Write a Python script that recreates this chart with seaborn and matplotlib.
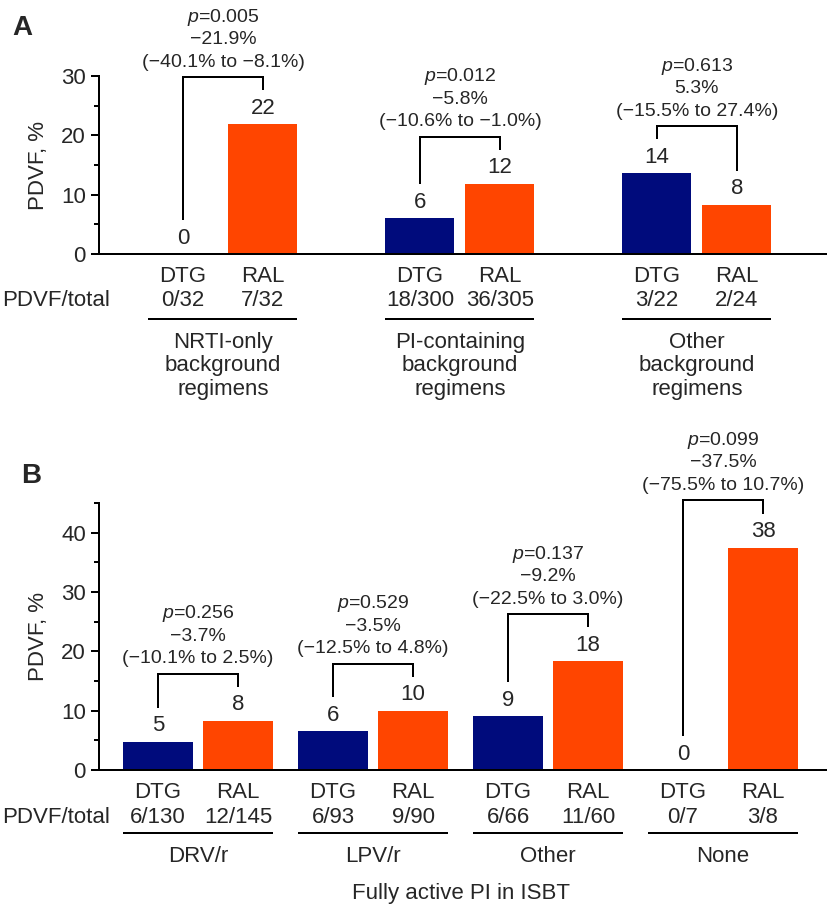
import numpy as np
import pandas as pd
import matplotlib
matplotlib.use("Agg")
import matplotlib.pyplot as plt
import seaborn as sns
from matplotlib.ticker import MultipleLocator
from matplotlib.transforms import ScaledTranslation

# ---- data ----
treatments = ["DTG", "RAL"]

# panel A: background regimen
a_groups = ["NRTI-only", "PI-containing", "Other"]
a_group_lines = [["NRTI-only", "background", "regimens"],
                 ["PI-containing", "background", "regimens"],
                 ["Other", "background", "regimens"]]
a_dtg = [0.0, 6.0, 13.6]
a_ral = [21.9, 11.8, 8.3]
a_dtg_lbl = ["0", "6", "14"]
a_ral_lbl = ["22", "12", "8"]
a_dtg_n = ["0/32", "18/300", "3/22"]
a_ral_n = ["7/32", "36/305", "2/24"]
a_p = ["0.005", "0.012", "0.613"]
a_diff = ["\u221221.9%", "\u22125.8%", "5.3%"]
a_ci = ["(\u221240.1% to \u22128.1%)", "(\u221210.6% to \u22121.0%)", "(\u221215.5% to 27.4%)"]

# panel B: fully active PI in ISBT
b_groups = ["DRV/r", "LPV/r", "Other", "None"]
b_group_lines = [["DRV/r"], ["LPV/r"], ["Other"], ["None"]]
b_dtg = [4.8, 6.5, 9.1, 0.0]
b_ral = [8.3, 10.0, 18.3, 37.5]
b_dtg_lbl = ["5", "6", "9", "0"]
b_ral_lbl = ["8", "10", "18", "38"]
b_dtg_n = ["6/130", "6/93", "6/66", "0/7"]
b_ral_n = ["12/145", "9/90", "11/60", "3/8"]
b_p = ["0.256", "0.529", "0.137", "0.099"]
b_diff = ["\u22123.7%", "\u22123.5%", "\u22129.2%", "\u221237.5%"]
b_ci = ["(\u221210.1% to 2.5%)", "(\u221212.5% to 4.8%)", "(\u221222.5% to 3.0%)", "(\u221275.5% to 10.7%)"]

NAVY = "#000B7C"
ORANGE = "#FF4500"
LW = 1.44
PX = 0.72  # points per pixel at dpi 100

sns.set_theme(style="ticks")
plt.rcParams["font.family"] = ["Liberation Sans", "DejaVu Sans"]
plt.rcParams["mathtext.fontset"] = "custom"
plt.rcParams["mathtext.rm"] = "Liberation Sans"
plt.rcParams["mathtext.it"] = "Liberation Sans:italic"


def long_frame(groups, dtg, ral):
    rows = []
    for g, d, r in zip(groups, dtg, ral):
        rows.append({"group": g, "treatment": "DTG", "pct": d})
        rows.append({"group": g, "treatment": "RAL", "pct": r})
    return pd.DataFrame(rows)


def draw_panel(ax, fig, groups, group_lines, dtg, ral, dtg_lbl, ral_lbl,
               dtg_n, ral_n, pvals, diffs, cis, width, gap, ymax, xlim,
               ax_h_px, below):
    df = long_frame(groups, dtg, ral)
    sns.barplot(data=df, x="group", y="pct", hue="treatment", order=groups,
                hue_order=treatments, palette=[NAVY, ORANGE], width=width,
                gap=gap, dodge=True, errorbar=None, legend=False,
                saturation=1, linewidth=0, ax=ax)
    ax.set_xlim(*xlim)
    ax.set_ylim(0, ymax)
    ax.yaxis.set_major_locator(MultipleLocator(10))
    ax.yaxis.set_minor_locator(MultipleLocator(5))
    ax.tick_params(axis="y", which="major", length=5.8, width=LW,
                   labelsize=16, pad=3.6, direction="out", color="black")
    ax.tick_params(axis="y", which="minor", length=3.6, width=LW,
                   direction="out", color="black", left=True)
    ax.tick_params(axis="x", bottom=False, labelbottom=False)
    for s in ["top", "right"]:
        ax.spines[s].set_visible(False)
    for s in ["left", "bottom"]:
        ax.spines[s].set_linewidth(LW)
        ax.spines[s].set_color("black")
    ax.set_xlabel("")
    ax.set_ylabel("PDVF, %", fontsize=16)
    ax.yaxis.set_label_coords(-0.0687, 0.5)

    bars = sorted([p for p in ax.patches if p.get_width() > 0], key=lambda p: p.get_x())
    k = ymax / ax_h_px  # data units per pixel

    for i in range(len(groups)):
        bd, br = bars[2 * i], bars[2 * i + 1]
        xd = bd.get_x() + bd.get_width() / 2
        xr = br.get_x() + br.get_width() / 2
        xc = (xd + xr) / 2
        # value labels
        for x, v, t in [(xd, dtg[i], dtg_lbl[i]), (xr, ral[i], ral_lbl[i])]:
            ax.annotate(t, xy=(x, v), xytext=(0, 10.5 * PX), textcoords="offset points",
                        ha="center", va="baseline", fontsize=16, annotation_clip=False)
        # bracket
        b1 = dtg[i] + 34 * k
        b2 = ral[i] + 34 * k
        top = max(b1, b2) + 13 * k
        ax.plot([xd, xd, xr, xr], [b1, top, top, b2], color="black", lw=LW,
                clip_on=False, solid_joinstyle="miter", solid_capstyle="butt")
        for off, t in [(10.5, cis[i]), (33, diffs[i]), (55.5, "$p$=" + pvals[i])]:
            ax.annotate(t, xy=(xc, top), xytext=(0, off * PX), textcoords="offset points",
                        ha="center", va="baseline", fontsize=14, annotation_clip=False)
        # labels under the axis
        for x, t1, t2 in [(xd, "DTG", dtg_n[i]), (xr, "RAL", ral_n[i])]:
            ax.annotate(t1, xy=(x, 0), xycoords=("data", "axes fraction"),
                        xytext=(0, -below["name"] * PX), textcoords="offset points",
                        ha="center", va="baseline", fontsize=16, annotation_clip=False)
            ax.annotate(t2, xy=(x, 0), xycoords=("data", "axes fraction"),
                        xytext=(0, -below["count"] * PX), textcoords="offset points",
                        ha="center", va="baseline", fontsize=16, annotation_clip=False)
        trans = ax.get_xaxis_transform() + ScaledTranslation(0, -below["line"] / 100, fig.dpi_scale_trans)
        ax.plot([bd.get_x(), br.get_x() + br.get_width()], [0, 0], transform=trans,
                color="black", lw=LW, clip_on=False, solid_capstyle="butt")
        for j, t in enumerate(group_lines[i]):
            ax.annotate(t, xy=(xc, 0), xycoords=("data", "axes fraction"),
                        xytext=(0, -(below["group"] + 23.3 * j) * PX), textcoords="offset points",
                        ha="center", va="baseline", fontsize=16, annotation_clip=False)

    ax.annotate("PDVF/total", xy=(2, 0), xycoords=("figure pixels", "axes fraction"),
                xytext=(0, -below["count"] * PX), textcoords="offset points",
                ha="left", va="baseline", fontsize=16, annotation_clip=False)


fig = plt.figure(figsize=(8.27, 9.07), dpi=100)
ax_a = fig.add_axes([99 / 827, 1 - 254 / 907, 1 - 99 / 827, 178 / 907])
ax_b = fig.add_axes([99 / 827, 1 - 770 / 907, 1 - 99 / 827, 267 / 907])

draw_panel(ax_a, fig, a_groups, a_group_lines, a_dtg, a_ral, a_dtg_lbl, a_ral_lbl,
           a_dtg_n, a_ral_n, a_p, a_diff, a_ci, width=0.675, gap=0.138, ymax=30,
           xlim=(-0.523, 2.549), ax_h_px=178,
           below={"name": 28.5, "count": 52.5, "line": 65, "group": 94})

draw_panel(ax_b, fig, b_groups, b_group_lines, b_dtg, b_ral, b_dtg_lbl, b_ral_lbl,
           b_dtg_n, b_ral_n, b_p, b_diff, b_ci, width=0.914, gap=0.125, ymax=45,
           xlim=(-0.566, 3.594), ax_h_px=267,
           below={"name": 28.5, "count": 53, "line": 63, "group": 92})

ax_b.annotate("Fully active PI in ISBT", xy=(1.5, 0), xycoords=("data", "axes fraction"),
              xytext=(0, -129.5 * PX), textcoords="offset points",
              ha="center", va="baseline", fontsize=16, annotation_clip=False)

fig.text(12 / 827, 1 - 35 / 907, "A", fontsize=20, fontweight="bold", va="baseline")
fig.text(21 / 827, 1 - 483 / 907, "B", fontsize=20, fontweight="bold", va="baseline")

fig.savefig("out.png", dpi=100)
